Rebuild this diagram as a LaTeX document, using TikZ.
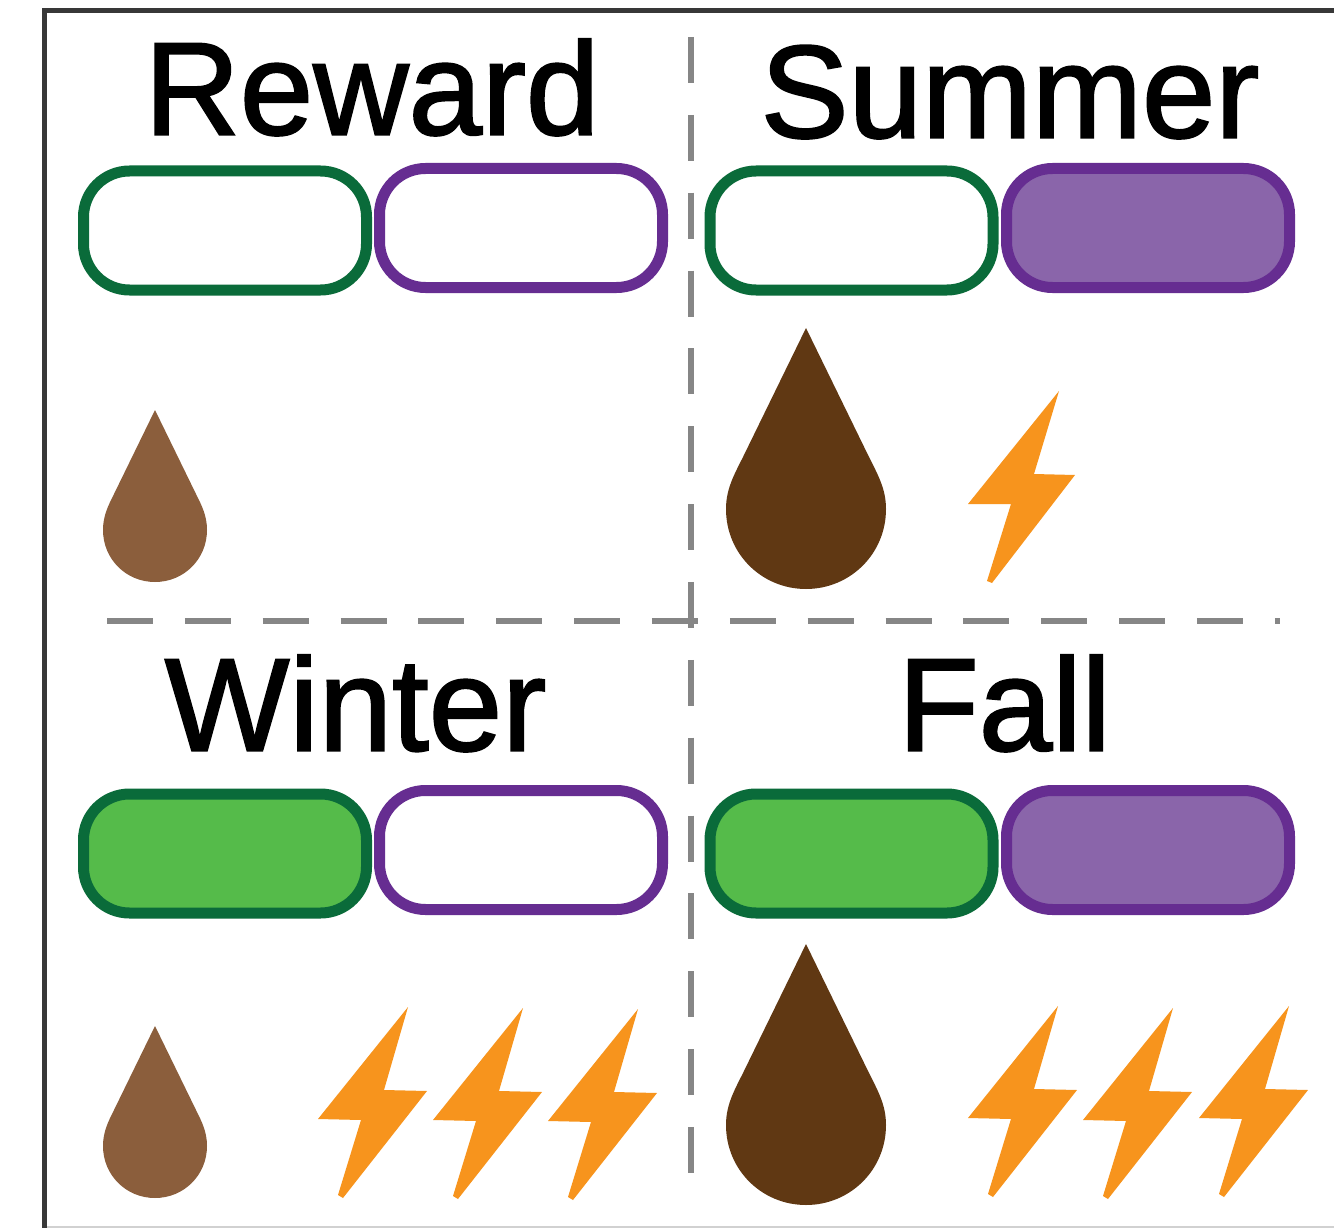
\documentclass[tikz,border=0pt]{standalone}
\usepackage{fontspec}
\setmainfont{Liberation Sans}
\newfontfamily\ttlfont[RawFeature={embolden=1.6}]{Liberation Sans}
\definecolor{gstroke}{HTML}{0A6B3A}
\definecolor{gfill}{HTML}{55BB4A}
\definecolor{pstroke}{HTML}{662D91}
\definecolor{pfill}{HTML}{8A65AA}
\definecolor{dlight}{HTML}{8B5E3C}
\definecolor{ddark}{HTML}{603813}
\definecolor{boltc}{HTML}{F7941D}
\definecolor{sepc}{HTML}{868686}
\tikzset{
  x=1pt,y=-1pt,
  title/.style={inner sep=0pt,outer sep=0pt,font=\ttlfont\fontsize{132}{132}\selectfont,text=black,anchor=base},
  pill/.style={rectangle,rounded corners=46pt,inner sep=0pt,outer sep=0pt,minimum width=283pt,minimum height=119pt,line width=11pt,fill=white},
  gpill/.style={pill,draw=gstroke},
  ppill/.style={pill,draw=pstroke},
  sep/.style={draw=sepc,line width=6pt,dash pattern=on 46pt off 31.85pt},
  bigdrop/.pic={\fill[ddark] (0,-181) -- (-63,-52) .. controls (-72,-34) and (-80,-20) .. (-80,0) .. controls (-80,45) and (-44,80) .. (0,80) .. controls (44,80) and (80,45) .. (80,0) .. controls (80,-20) and (72,-34) .. (63,-52) -- cycle;},
  smalldrop/.pic={\fill[dlight] (0,-120) -- (-41,-36) .. controls (-47,-24) and (-52,-14) .. (-52,0) .. controls (-52,29) and (-29,52) .. (0,52) .. controls (29,52) and (52,29) .. (52,0) .. controls (52,-14) and (47,-24) .. (41,-36) -- cycle;},
  boltpic/.pic={\fill[boltc] (0,0) -- (-25,83) -- (16,84) -- (-67,192) -- (-72,190) -- (-48,113) -- (-91,113) -- cycle;},
  lowbolt/.pic={\fill[boltc] (0,0) -- (-24,83) -- (19,84) -- (-65,191) -- (-70,188) -- (-47,113) -- (-90,112) -- cycle;},
}
\begin{document}
\begin{tikzpicture}
\useasboundingbox (0,0) rectangle (1334,1228);
\fill[white] (0,0) rectangle (1334,1228);
\coordinate (ba) at (44,1227);
\coordinate (bb) at (1334,1227);
\draw[draw=black!18,line width=2pt] (ba) -- (bb);
\coordinate (fa) at (44,10.5);
\coordinate (fb) at (1360,1250);
\draw[draw=black!78,line width=5pt] (fa) rectangle (fb);
% separators
\coordinate (va) at (691,37);
\coordinate (vb) at (691,1174);
\coordinate (ha) at (107,621);
\coordinate (hb) at (1280,621);
\draw[sep] (va) -- (vb);
\draw[sep] (ha) -- (hb);
% titles
\node[title] (treward) at (372,134.5) {Reward};
\node[title] (tsummer) at (1010,137.5) {Summer};
\node[title] (twinter) at (355.5,750.5) {Winter};
\node[title] (tfall) at (1004.5,750.5) {Fall};
% pills
\node[gpill] (g1) at (225,230.5) {};
\node[ppill] (p1) at (521,228) {};
\node[gpill] (g2) at (851.5,230.5) {};
\node[ppill,fill=pfill] (p2) at (1148,228) {};
\node[gpill,fill=gfill] (g3) at (225,853.5) {};
\node[ppill] (p3) at (521,850) {};
\node[gpill,fill=gfill] (g4) at (851.5,853.5) {};
\node[ppill,fill=pfill] (p4) at (1148,850) {};
% drops
\pic at (155,530) {smalldrop};
\pic at (806,509) {bigdrop};
\pic at (155,1146) {smalldrop};
\pic at (806,1125) {bigdrop};
% bolts
\pic at (1059,391) {boltpic};
\pic at (408,1007) {lowbolt};
\pic at (523,1008) {lowbolt};
\pic at (638,1009) {lowbolt};
\pic at (1058,1006) {lowbolt};
\pic at (1173,1008) {lowbolt};
\pic at (1289,1006) {lowbolt};
\end{tikzpicture}
\end{document}
